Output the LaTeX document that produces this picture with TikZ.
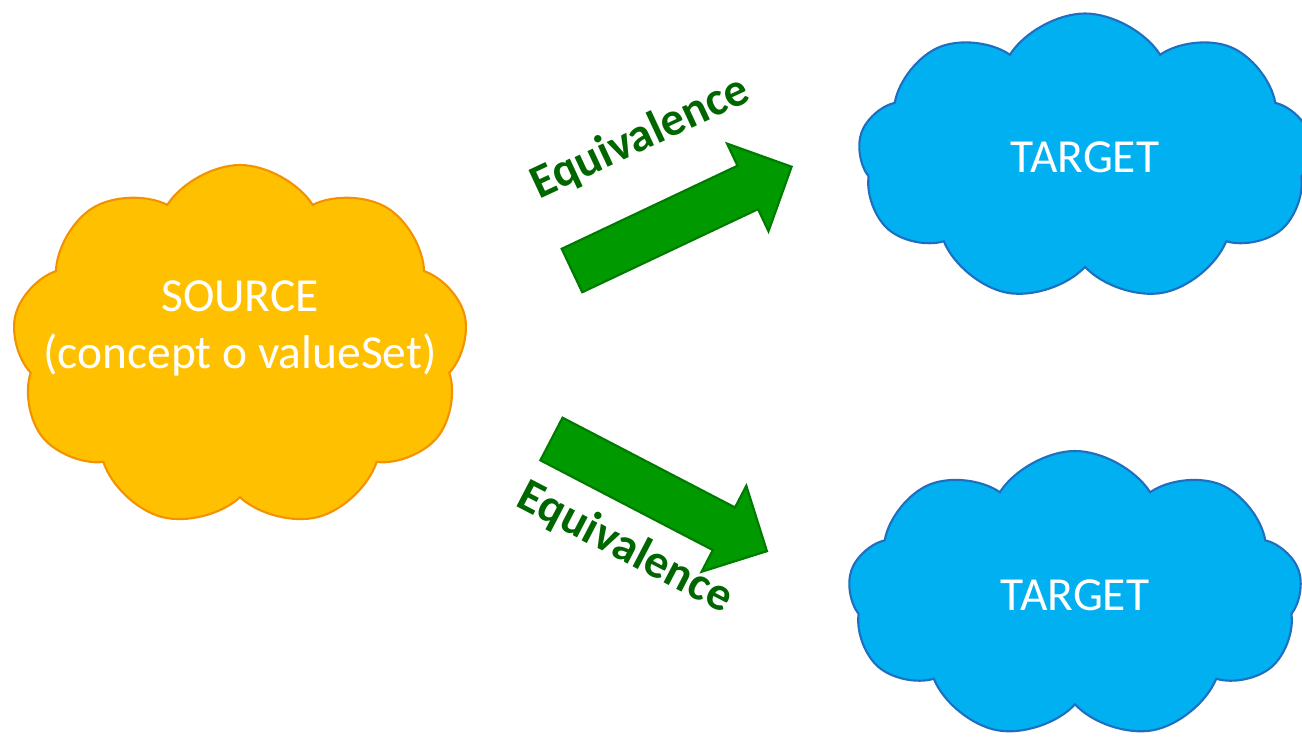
\documentclass[tikz,border=0pt]{standalone}
\usepackage{fontspec}
\setmainfont{Carlito}
\usetikzlibrary{shapes.symbols, shapes.arrows}

\definecolor{srcfill}{HTML}{FFC000}
\definecolor{srcline}{HTML}{F39200}
\definecolor{tgtfill}{HTML}{00B0F0}
\definecolor{tgtline}{HTML}{1F6FC0}
\definecolor{eqfill}{HTML}{009900}
\definecolor{eqline}{HTML}{007A00}
\definecolor{eqtext}{HTML}{006600}

\begin{document}
\begin{tikzpicture}[every node/.style={font=\fontsize{13.5pt}{16.2pt}\selectfont},
                    puff/.style={cloud, cloud puffs=9, cloud puff arc=115, cloud ignores aspect, draw, line width=0.6pt, inner sep=0},
                    source/.style={puff, fill=srcfill, draw=srcline, minimum width=4.56cm, minimum height=3.63cm},
                    target/.style={puff, fill=tgtfill, draw=tgtline, minimum width=4.54cm, minimum height=2.88cm, text=white},
                    equiv/.style={single arrow, fill=eqfill, draw=eqline, line width=0.6pt, inner sep=0, text height=0.23cm, text depth=0.23cm, minimum height=2.43cm, single arrow head extend=0.245cm, single arrow head indent=0, anchor=tail},
                    equivlabel/.style={text=eqtext, font=\fontsize{13.5pt}{16.2pt}\selectfont\bfseries}]
                    \useasboundingbox (0,0) rectangle (13.02,7.39);

                    % source cloud and its text
                    \node[source](src) at (2.40,3.925){};
                    \node[text=white, align=center](srctext) at ([yshift=0.18cm]src.center){SOURCE\\(concept o valueSet)};

                    % targets
                    \node[target](tgtup) at (10.85,5.815){TARGET};
                    \node[target](tgtdown) at (10.75,1.44){TARGET};

                    % equivalence arrows
                    \node[equiv, rotate=25.3](equp) at (5.71,4.68){};
                    \node[equiv, rotate=-27.5](eqdown) at (5.505,3.005){};
                    \node[equivlabel, rotate=25](equplabel) at (6.40,6.01){Equivalence};
                    \node[equivlabel, rotate=-27.5](eqdownlabel) at (6.25,1.91){Equivalence};
                \end{tikzpicture}
\end{document}
